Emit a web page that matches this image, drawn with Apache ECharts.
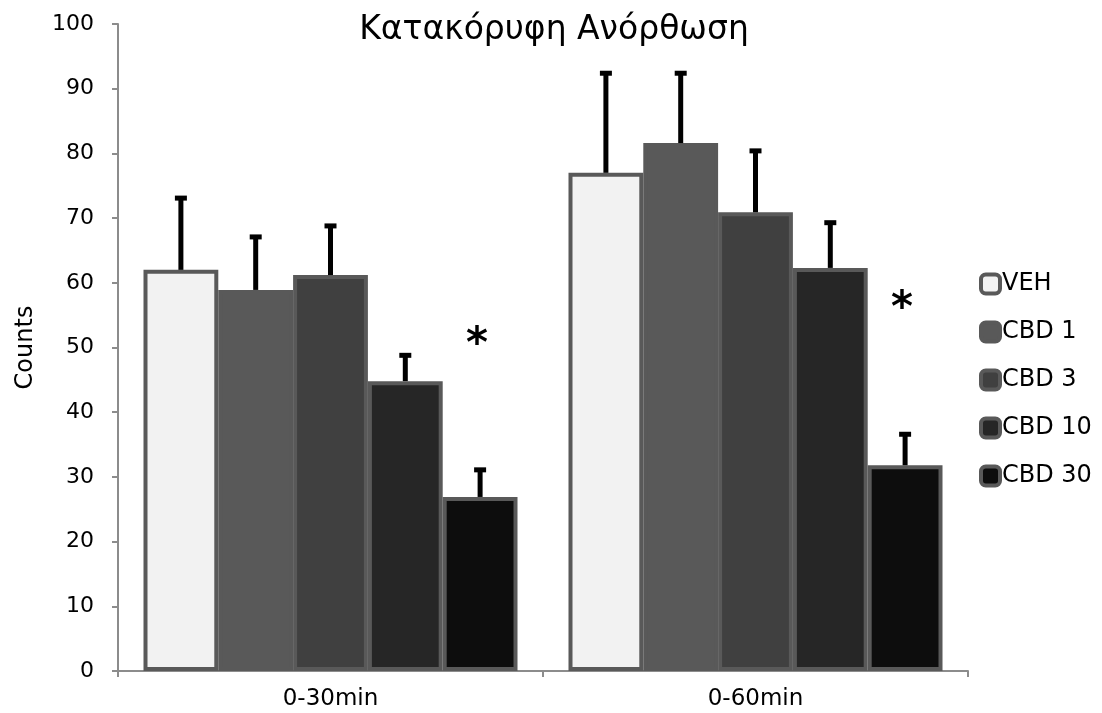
<!DOCTYPE html>
<html>
<head>
<meta charset="utf-8">
<script src="https://cdn.jsdelivr.net/npm/echarts@6/dist/echarts.min.js"></script>
<style>
  html, body { margin: 0; padding: 0; background: #fff; }
  #main { width: 1102px; height: 713px; }
</style>
</head>
<body>
<div id="main"></div>
<script>
var categories = ['0-30min', '0-60min'];
var groups = ['VEH', 'CBD 1', 'CBD 3', 'CBD 10', 'CBD 30'];
var colors = ['#f2f2f2', '#595959', '#404040', '#262626', '#0d0d0d'];
// mean values per group, one entry per time window
var veh = [62.0, 77.0];
var cbd1 = [58.9, 81.6];
var cbd3 = [61.2, 70.9];
var cbd10 = [44.8, 62.3];
var cbd30 = [26.9, 31.8];
// top of the error bar (mean + SEM)
var vehErr = [73.4, 92.7];
var cbd1Err = [67.4, 92.7];
var cbd3Err = [69.1, 80.7];
var cbd10Err = [49.1, 69.6];
var cbd30Err = [31.4, 36.9];
// significance marks (shown over CBD 30)
var sig = [true, true];

var means = [veh, cbd1, cbd3, cbd10, cbd30];
var errs = [vehErr, cbd1Err, cbd3Err, cbd10Err, cbd30Err];
var catGap = 0.12;
var font = '"DejaVu Sans", Arial, sans-serif';

var chart = echarts.init(document.getElementById('main'));

var series = [];
groups.forEach(function (g, i) {
    series.push({
        name: g,
        type: 'bar',
        data: means[i],
        barGap: '0%',
        barCategoryGap: (catGap * 100) + '%',
        itemStyle: {
            color: colors[i],
            borderColor: '#595959',
            borderWidth: 4
        },
        z: 2
    });
});

groups.forEach(function (g, i) {
    var d = means[i].map(function (v, k) { return [k, v, errs[i][k], (i === 4 && sig[k]) ? 1 : 0]; });
    series.push({
        name: g + ' err',
        type: 'custom',
        z: 5,
        silent: true,
        data: d,
        renderItem: function (params, api) {
            var cat = api.value(0);
            var band = api.size([1, 0])[0];
            var barW = band * (1 - catGap) / groups.length;
            var cx = api.coord([cat, 0])[0] + (i - (groups.length - 1) / 2) * barW;
            var yLow = api.coord([cat, api.value(1)])[1];
            var yHigh = api.coord([cat, api.value(2)])[1];
            var children = [
                { type: 'line', shape: { x1: cx, y1: yLow, x2: cx, y2: yHigh + 2 }, style: { stroke: '#000', lineWidth: 5 } },
                { type: 'line', shape: { x1: cx - 6, y1: yHigh + 2, x2: cx + 6, y2: yHigh + 2 }, style: { stroke: '#000', lineWidth: 5 } }
            ];
            if (api.value(3)) {
                children.push({
                    type: 'text',
                    style: {
                        text: '*', x: cx - 3, y: yHigh - 122,
                        fill: '#000', font: 'bold 42px ' + font,
                        align: 'center', verticalAlign: 'middle'
                    }
                });
            }
            return { type: 'group', children: children };
        }
    });
});

var option = {
    backgroundColor: '#fff',
    animation: false,
    title: {
        text: 'Κατακόρυφη Ανόρθωση',
        left: 549,
        textAlign: 'center',
        top: 9,
        textStyle: { fontFamily: font, fontWeight: 'normal', fontSize: 33, color: '#000' }
    },
    legend: {
        data: groups,
        orient: 'vertical',
        left: 979,
        top: 272,
        itemGap: 24,
        itemWidth: 19,
        itemHeight: 19,
        padding: 0,
        itemStyle: { borderColor: '#595959', borderWidth: 4 },
        textStyle: { fontFamily: font, fontSize: 24, color: '#000', padding: [0, 0, 0, -3] }
    },
    grid: { left: 118, right: 134, top: 24, bottom: 42 },
    xAxis: {
        type: 'category',
        data: categories,
        axisLine: { lineStyle: { color: '#8c8c8c', width: 2 } },
        axisTick: { show: true, length: 6, lineStyle: { color: '#8c8c8c', width: 2 } },
        axisLabel: { fontFamily: font, fontSize: 23, color: '#000', margin: 17 }
    },
    yAxis: {
        type: 'value',
        min: 0,
        max: 100,
        interval: 10,
        name: 'Counts',
        nameLocation: 'middle',
        nameGap: 80,
        nameTextStyle: { fontFamily: font, fontSize: 24, color: '#000' },
        axisLine: { show: true, lineStyle: { color: '#8c8c8c', width: 2 } },
        axisTick: { show: true, length: 6, lineStyle: { color: '#8c8c8c', width: 2 } },
        splitLine: { show: false },
        axisLabel: { fontFamily: font, fontSize: 22, color: '#000', margin: 24 }
    },
    series: series
};

chart.setOption(option);
</script>
</body>
</html>
